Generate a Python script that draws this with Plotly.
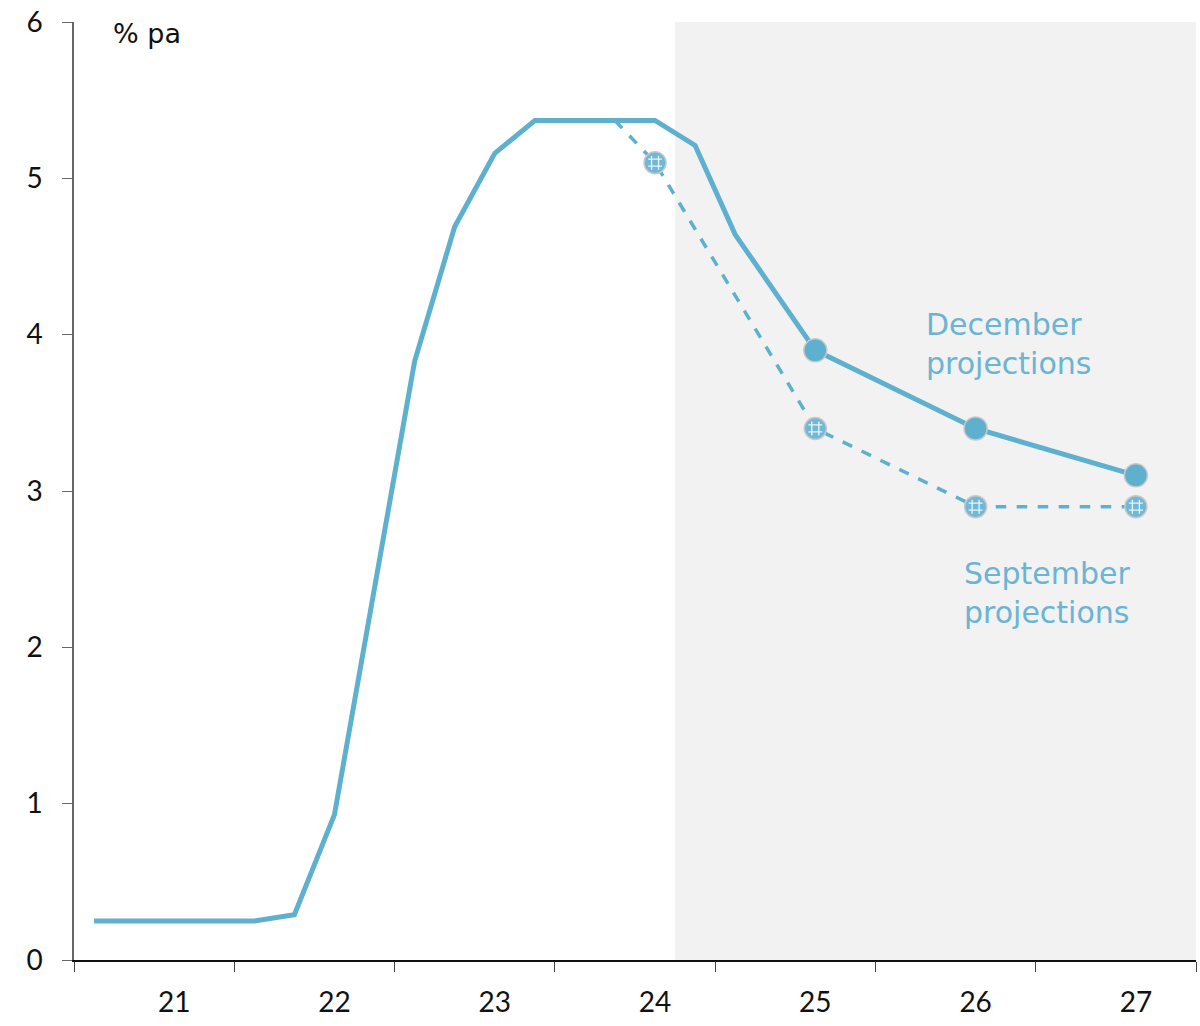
import plotly.graph_objects as go

# Quarterly positions on a numeric axis: quarter k is drawn at k + 0.5,
# four quarters per year, the axis runs from the start of 2021 to the end of 2027.
hist_q = [0, 1, 2, 3, 4, 5, 6, 7, 8, 9, 10, 11, 12, 13, 14, 15, 16, 18, 22, 26]
dec_rate = [0.25, 0.25, 0.25, 0.25, 0.25, 0.29, 0.93, 2.38, 3.83, 4.69, 5.16,
            5.37, 5.37, 5.37, 5.37, 5.21, 4.64, 3.90, 3.40, 3.10]
dec_marker_q = [18, 22, 26]
dec_marker_rate = [3.90, 3.40, 3.10]

sep_q = [13, 14, 18, 22, 26]
sep_rate = [5.37, 5.10, 3.40, 2.90, 2.90]
sep_marker_q = [14, 18, 22, 26]
sep_marker_rate = [5.10, 3.40, 2.90, 2.90]

year_labels = ["21", "22", "23", "24", "25", "26", "27"]
forecast_start_q = 15

BLUE = "#5eb0cf"
TICK_FONT = "Lato"
TEXT_FONT = "DejaVu Sans"


def pos(qs):
    return [q + 0.5 for q in qs]


fig = go.Figure()

# Forecast period shading
fig.add_shape(type="rect", xref="x", yref="y", x0=forecast_start_q, x1=28,
              y0=0, y1=6, fillcolor="#f2f2f2", line_width=0, layer="below")

# September projections (dashed)
fig.add_trace(go.Scatter(x=pos(sep_q), y=sep_rate, mode="lines",
                         line=dict(color=BLUE, width=3.5, dash="dash"),
                         hoverinfo="skip", showlegend=False))
fig.add_trace(go.Scatter(x=pos(sep_marker_q), y=sep_marker_rate, mode="markers",
                         marker=dict(size=22, color="#6fb8d6",
                                     line=dict(color="#c8c8c8", width=1.5)),
                         showlegend=False))
# dotted texture on the September markers
fig.add_trace(go.Scatter(x=pos(sep_marker_q), y=sep_marker_rate, mode="markers",
                         marker=dict(size=14, symbol="hash", color="white",
                                     line=dict(color="rgba(255,255,255,0.85)", width=1.3)),
                         hoverinfo="skip", showlegend=False))

# December projections (solid)
fig.add_trace(go.Scatter(x=pos(hist_q), y=dec_rate, mode="lines",
                         line=dict(color=BLUE, width=5),
                         showlegend=False))
fig.add_trace(go.Scatter(x=pos(dec_marker_q), y=dec_marker_rate, mode="markers",
                         marker=dict(size=23, color=BLUE,
                                     line=dict(color="#c8c8c8", width=1.5)),
                         showlegend=False))

fig.add_annotation(text="% pa", xref="paper", yref="paper", x=0.033, y=0.988,
                   xanchor="left", yanchor="middle", showarrow=False,
                   font=dict(family=TEXT_FONT, size=27, color="#111111"))
fig.add_annotation(text="December<br>projections", xref="x", yref="y",
                   x=21.2, y=3.94, xanchor="left", yanchor="middle", showarrow=False,
                   align="left", font=dict(family=TEXT_FONT, size=30, color="#6ab4d4"))
fig.add_annotation(text="September<br>projections", xref="x", yref="y",
                   x=22.15, y=2.35, xanchor="left", yanchor="middle", showarrow=False,
                   align="left", font=dict(family=TEXT_FONT, size=30, color="#6ab4d4"))

fig.update_xaxes(range=[0, 28], tickvals=[2.5 + 4 * i for i in range(7)],
                 ticktext=year_labels, ticks="", ticklabelstandoff=17,
                 showgrid=False, zeroline=False, showline=True,
                 linecolor="#111111", linewidth=1.5,
                 minor=dict(tick0=0, dtick=4, ticks="outside", ticklen=10,
                            tickcolor="#444444", tickwidth=1.2, showgrid=False),
                 tickfont=dict(family=TICK_FONT, size=28, color="#111111"))
fig.update_yaxes(range=[0, 6], tickvals=[0, 1, 2, 3, 4, 5, 6], ticks="outside",
                 ticklen=10, tickcolor="#666666", tickwidth=1.2,
                 ticklabelstandoff=14, showgrid=False, zeroline=False,
                 showline=True, linecolor="#666666", linewidth=1.5,
                 tickfont=dict(family=TICK_FONT, size=28, color="#111111"))

fig.update_layout(width=1200, height=1026, margin=dict(l=74, r=4, t=22, b=66),
                  plot_bgcolor="white", paper_bgcolor="white")

fig.write_html("out.html")
